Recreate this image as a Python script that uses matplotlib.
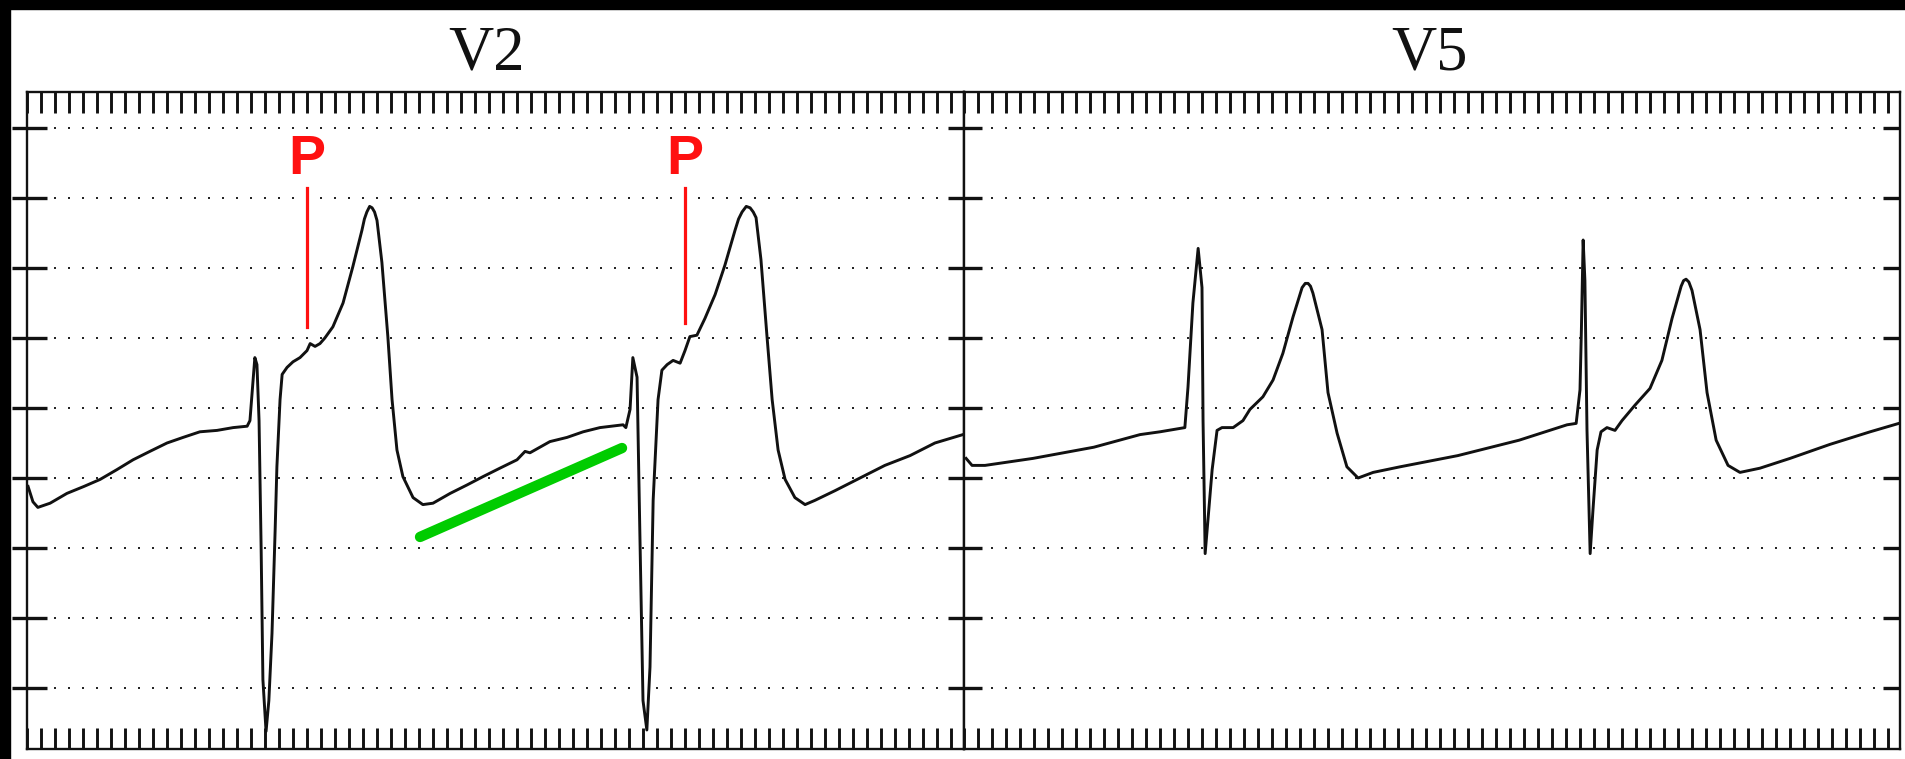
import numpy as np
import matplotlib
matplotlib.use("Agg")
import matplotlib.pyplot as plt
from matplotlib.patches import Rectangle

# ---------------------------------------------------------------- data
# Lead V2: time (s) and amplitude (mV)
v2_t = [0.003, 0.017, 0.031, 0.066, 0.114, 0.163, 0.209, 0.257, 0.303, 0.351,
        0.400, 0.446, 0.494, 0.543, 0.589, 0.629, 0.637, 0.646, 0.651, 0.657,
        0.663, 0.669, 0.674, 0.683, 0.691, 0.700, 0.709, 0.714, 0.723, 0.729,
        0.743, 0.760, 0.780, 0.800, 0.809, 0.823, 0.837, 0.851, 0.874, 0.903,
        0.931, 0.957, 0.964, 0.971, 0.979, 0.986, 0.993, 1.000, 1.014, 1.031,
        1.043, 1.057, 1.074,
        1.103, 1.131, 1.160, 1.209, 1.257, 1.303, 1.351, 1.400, 1.423, 1.437,
        1.494, 1.543, 1.589, 1.637, 1.703, 1.711, 1.723, 1.731, 1.743, 1.751,
        1.760, 1.771, 1.780, 1.789, 1.803, 1.814, 1.829, 1.846, 1.866, 1.880,
        1.894, 1.914, 1.937, 1.966, 1.994, 2.023, 2.033, 2.043, 2.055, 2.066,
        2.075, 2.083, 2.097,
        2.114, 2.129, 2.146, 2.166, 2.194, 2.223, 2.251, 2.309, 2.380, 2.451,
        2.523, 2.594, 2.674]
v2_mv = [-0.56, -0.67, -0.71, -0.68, -0.61, -0.56, -0.51, -0.44, -0.37, -0.31,
         -0.25, -0.21, -0.17, -0.16, -0.14, -0.13, -0.09, 0.20, 0.36, 0.31,
         -0.09, -1.01, -1.94, -2.31, -2.09, -1.61, -0.87, -0.42, 0.06, 0.24,
         0.29, 0.33, 0.36, 0.41, 0.46, 0.44, 0.46, 0.50, 0.58, 0.75,
         1.01, 1.27, 1.35, 1.40, 1.44, 1.43, 1.40, 1.34, 1.04, 0.51,
         0.06, -0.30, -0.49,
         -0.64, -0.69, -0.68, -0.61, -0.55, -0.49, -0.43, -0.37, -0.31, -0.32,
         -0.24, -0.21, -0.17, -0.14, -0.12, -0.14, -0.01, 0.36, 0.22, -0.89,
         -2.09, -2.30, -1.85, -0.66, 0.06, 0.27, 0.31, 0.34, 0.32, 0.41,
         0.51, 0.52, 0.64, 0.81, 1.02, 1.27, 1.35, 1.40, 1.44, 1.43,
         1.40, 1.36, 1.06,
         0.52, 0.06, -0.30, -0.51, -0.64, -0.69, -0.66, -0.59, -0.50, -0.41,
         -0.34, -0.25, -0.19]

# Lead V5: time (s) and amplitude (mV)
v5_t = [0.006, 0.023, 0.060, 0.197, 0.371, 0.503, 0.560, 0.631, 0.640, 0.654,
        0.669, 0.680, 0.683, 0.689, 0.697, 0.709, 0.723, 0.737, 0.769, 0.797,
        0.817, 0.854, 0.883, 0.911, 0.940, 0.966, 0.975, 0.983, 0.990, 0.997,
        1.023, 1.040,
        1.066, 1.094, 1.126, 1.169, 1.246, 1.411, 1.586, 1.723, 1.749, 1.760,
        1.764, 1.769, 1.774, 1.780, 1.789, 1.797, 1.809, 1.820, 1.837, 1.860,
        1.880, 1.917, 1.960, 1.994, 2.023, 2.049, 2.056, 2.063, 2.071, 2.080,
        2.103, 2.123,
        2.149, 2.183, 2.217, 2.274, 2.360, 2.474, 2.589, 2.671]
v5_mv = [-0.36, -0.41, -0.41, -0.36, -0.28, -0.19, -0.17, -0.14, 0.15, 0.75,
         1.14, 0.86, -0.09, -1.04, -0.80, -0.44, -0.16, -0.14, -0.14, -0.09,
         -0.01, 0.08, 0.20, 0.39, 0.65, 0.86, 0.89, 0.89, 0.87, 0.82,
         0.56, 0.11,
         -0.18, -0.42, -0.50, -0.46, -0.42, -0.34, -0.23, -0.12, -0.11, 0.13,
         0.56, 1.20, 0.91, -0.16, -1.04, -0.73, -0.30, -0.17, -0.14, -0.16,
         -0.09, 0.02, 0.14, 0.34, 0.64, 0.87, 0.91, 0.92, 0.90, 0.84,
         0.56, 0.11,
         -0.23, -0.41, -0.46, -0.43, -0.36, -0.26, -0.17, -0.11]

lead_names = ["V2", "V5"]

# P-wave markers on V2 (time in s, marker spans in mV)
p_marks_t = [0.800, 1.880]
p_marks_top = [1.571, 1.571]
p_marks_bottom = [0.579, 0.607]

# Green guide line along the V2 baseline (start/end time and mV)
guide_t = [1.123, 1.700]
guide_mv = [-0.921, -0.286]

# Grid: 0.04 s small boxes, dotted rows every 0.5 mV
box_s = 0.04
grid_mv = [-2.0, -1.5, -1.0, -0.5, 0.0, 0.5, 1.0, 1.5, 2.0]

# ---------------------------------------------------------------- layout
W, H, DPI = 1905, 759, 100
PX_S, PX_MV = 350.0, 140.0          # paper speed / gain in pixels
top_px, bot_px, zero_px = 92, 749, 408
panels_px = [(27, 937), (964, 936)]

fig = plt.figure(figsize=(W / DPI, H / DPI), dpi=DPI)
fig.patch.set_facecolor("white")

ink = "#111111"
axes = []
for (x0, w) in panels_px:
    ax = fig.add_axes([x0 / W, (H - bot_px) / H, w / W, (bot_px - top_px) / H])
    ax.set_xlim(0, w / PX_S)
    ax.set_ylim(-(bot_px - zero_px) / PX_MV, (zero_px - top_px) / PX_MV)
    ax.set_facecolor("white")
    for s in ax.spines.values():
        s.set_linewidth(1.7)
        s.set_color(ink)
    xt = np.arange(0, w / PX_S + 1e-9, box_s)
    ax.set_xticks(xt)
    ax.set_xticklabels([])
    ax.tick_params(axis="x", direction="in", top=True, bottom=True,
                   length=15, width=2.1, color=ink)
    ax.set_yticks([])
    # dotted rows
    for lv in grid_mv:
        ax.plot(xt, np.full(len(xt), lv), ls="none", marker="s", ms=1.9,
                mew=0, color="#262626", zorder=1)
    axes.append(ax)

ax1, ax2 = axes
yt1 = ax1.get_yaxis_transform()
yt2 = ax2.get_yaxis_transform()
w1, w2 = panels_px[0][1], panels_px[1][1]
# calibration marks at each dotted row on the frame edges
ax1.hlines(grid_mv, -15 / w1, 20 / w1, transform=yt1, lw=2.4, color=ink,
           clip_on=False, zorder=3)
ax1.hlines(grid_mv, 1 - 16 / w1, 1, transform=yt1, lw=2.4, color=ink,
           clip_on=False, zorder=3)
ax2.hlines(grid_mv, 0, 18 / w2, transform=yt2, lw=2.4, color=ink,
           clip_on=False, zorder=3)
ax2.hlines(grid_mv, 1 - 17 / w2, 1, transform=yt2, lw=2.4, color=ink,
           clip_on=False, zorder=3)

# traces
ax1.plot(v2_t, v2_mv, color=ink, lw=2.1, zorder=4, solid_joinstyle="round")
ax2.plot(v5_t, v5_mv, color=ink, lw=2.1, zorder=4, solid_joinstyle="round")

# P-wave markers
red = "#ff1010"
for t, a, b in zip(p_marks_t, p_marks_top, p_marks_bottom):
    ax1.plot([t, t], [b, a], color=red, lw=2.3, zorder=5)
    ax1.text(t, a + 0.015, "P", color=red, ha="center", va="bottom",
             fontsize=40, fontweight="bold", family="Liberation Sans",
             zorder=6)

# green guide line
ax1.plot(guide_t, guide_mv, color="#00cc00", lw=7.5, solid_capstyle="round",
         zorder=6)

# lead names
for (x0, w), name, cx in zip(panels_px, lead_names, [487, 1430]):
    fig.text(cx / W, 1 - 70 / H, name, ha="center", va="baseline",
             fontsize=45, family="Liberation Serif", color=ink)

# dark border bands
fig.add_artist(Rectangle((0, 1 - 9 / H), 1, 9 / H, transform=fig.transFigure,
                         color="black", zorder=10))
fig.add_artist(Rectangle((0, 0), 10 / W, 1, transform=fig.transFigure,
                         color="black", zorder=10))

fig.savefig("out.png", dpi=DPI, facecolor="white")
